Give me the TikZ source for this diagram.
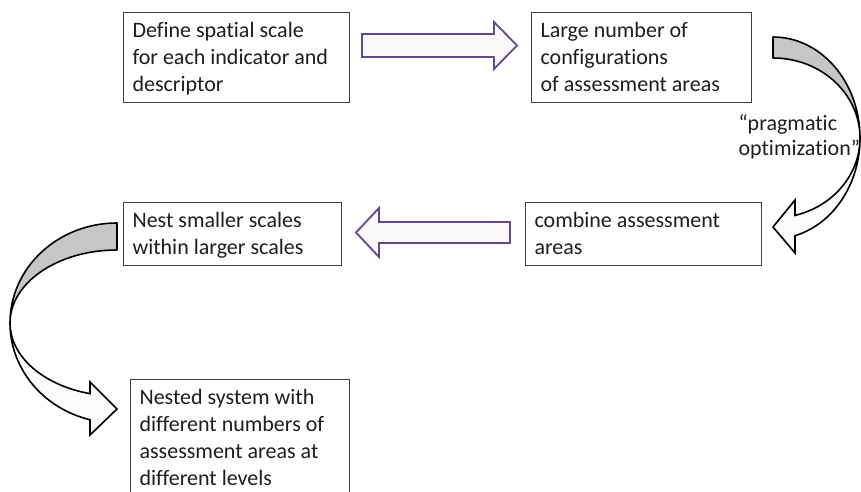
\documentclass[tikz,border=0pt]{standalone}
\usepackage{fontspec}
\setmainfont{Carlito}[Ligatures={NoCommon,NoContextual}]
\definecolor{boxline}{HTML}{404040}
\definecolor{purp}{HTML}{5F4A8B}
\definecolor{arrfill}{HTML}{FBF9F7}
\definecolor{crescent}{HTML}{C6C6C6}
\definecolor{frontfill}{HTML}{FBFBFB}
\definecolor{txt}{HTML}{1E1E1E}
\newcommand\boxtext[3]{\parbox[c][#1][t]{#2}{\fontsize{22}{27}\selectfont\raggedright\vspace*{6.1pt}\strut #3}}
\begin{document}
\begin{tikzpicture}[x=1pt,y=-1pt,
  box/.style={draw=boxline, line width=1.1pt, inner xsep=9pt, inner ysep=0pt, anchor=north west, text=txt},
  blockarrow/.style={draw=purp, fill=arrfill, line width=1.8pt, line join=miter},
  back/.style={draw=black, line width=1.6pt, fill=crescent, line join=round},
  front/.style={draw=black, line width=1.6pt, fill=frontfill, line join=miter},
  lbl/.style={anchor=base west, text=txt, align=left, font=\fontsize{22}{25}\selectfont}]
\clip (0,0) rectangle (861,492);
\fill[white] (0,0) rectangle (861,492);

\node[box] (b1) at (123,12) {\boxtext{90pt}{208pt}{Define spatial scale\\for each indicator and\\descriptor}};
\node[box] (b2) at (531,12) {\boxtext{90pt}{202pt}{Large number of\\configurations\\of assessment areas}};
\node[box] (b3) at (525,202) {\boxtext{63pt}{218pt}{combine assessment\\areas}};
\node[box] (b4) at (123,202) {\boxtext{63pt}{200pt}{Nest smaller scales\\within larger scales}};
\node[box] (b5) at (130,379) {\boxtext{130pt}{201pt}{Nested system with\\different numbers of\\assessment areas at\\different levels}};

% straight block arrows
\path[blockarrow] (362,34) -- (494,34) -- (494,22) -- (517,45.5) -- (494,69) -- (494,57) -- (362,57) -- cycle;
\path[blockarrow] (510,222) -- (379,222) -- (379,208) -- (356,232.5) -- (379,257) -- (379,243) -- (510,243) -- cycle;

% right curved arrow
\path[back] (773,37) arc[start angle=-90, end angle=0, x radius=87, y radius=101]
  arc[start angle=0, end angle=-90, x radius=87, y radius=80] -- cycle;
\path[front] (860,138) arc[start angle=0, end angle=75.35, x radius=87, y radius=101]
  -- (795,253) -- (773,227) -- (795,200) -- (795,215.4)
  arc[start angle=75.35, end angle=0, x radius=87, y radius=80] -- cycle;

% left curved arrow
\path[back] (117,223) arc[start angle=-90, end angle=-180, x radius=107, y radius=100]
  arc[start angle=180, end angle=270, x radius=107, y radius=73] -- cycle;
\path[front] (10,323) arc[start angle=180, end angle=104.62, x radius=107, y radius=100]
  -- (90,435) -- (117,409) -- (90,382) -- (90.03,393.64)
  arc[start angle=104.62, end angle=180, x radius=107, y radius=73] -- cycle;

\node[lbl] (opt) at (735,155) {“pragmatic\\optimization”};
\end{tikzpicture}
\end{document}
